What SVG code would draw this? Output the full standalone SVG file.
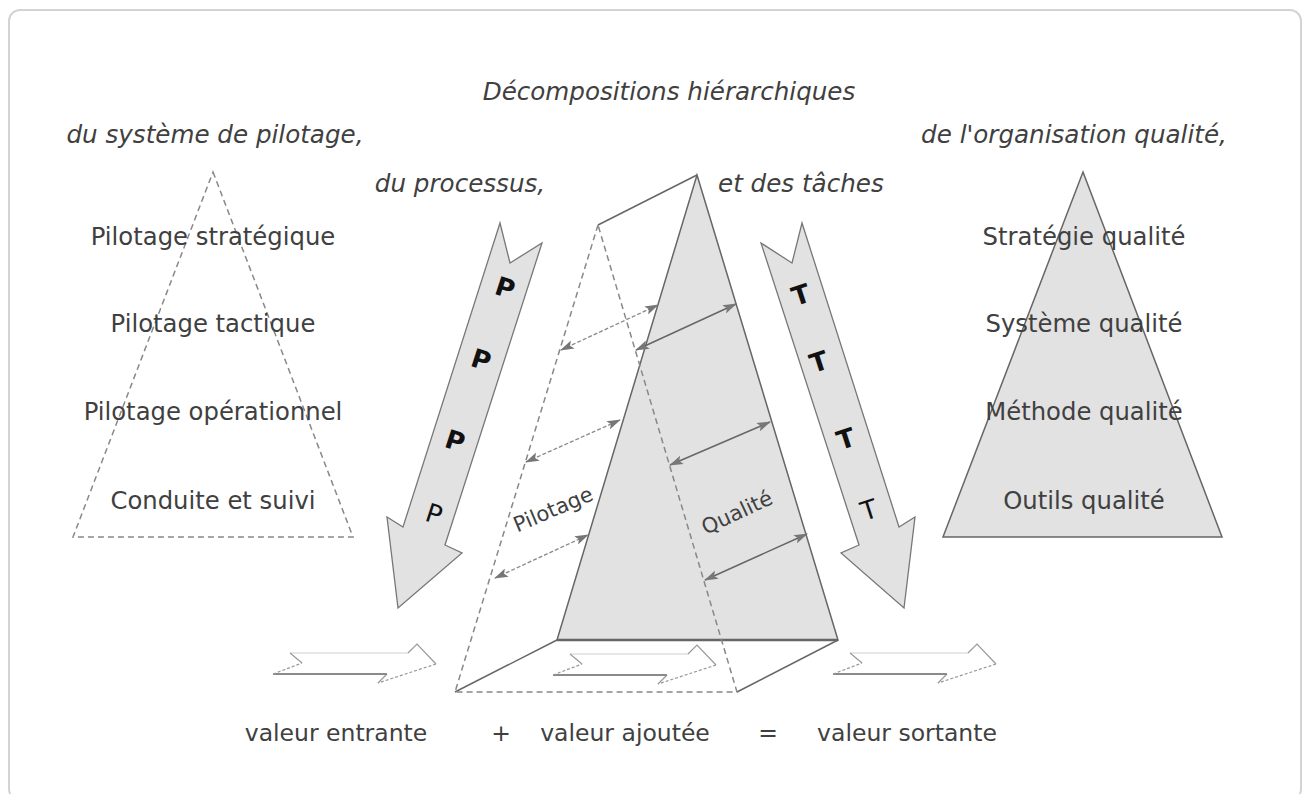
<svg xmlns="http://www.w3.org/2000/svg" width="1307" height="794" viewBox="0 0 1307 794">
  <style>
    .lbl { font-family: "DejaVu Sans", "Liberation Sans", sans-serif; font-size: 24.3px; fill: #404040; text-anchor: middle; }
    .val { font-size: 23.5px; }
    .ttl { font-family: "DejaVu Sans", "Liberation Sans", sans-serif; font-size: 24.6px; font-style: italic; fill: #404040; }
    .letter { font-family: "DejaVu Sans", "Liberation Sans", sans-serif; font-size: 26px; fill: #111; text-anchor: middle; }
    .bold { font-weight: bold; }
    .band { fill: #e2e2e2; stroke: #777; stroke-width: 1.3; stroke-linejoin: miter; }
    .solid { fill: none; stroke: #666; stroke-width: 1.5; }
    .dash { fill: none; stroke: #888; stroke-width: 1.5; stroke-dasharray: 6 4; }
    .dlink { fill: none; stroke: #888; stroke-width: 1.3; stroke-dasharray: 4 2; marker-start: url(#head); marker-end: url(#head); }
    .slink { fill: none; stroke: #666; stroke-width: 1.5; marker-start: url(#head); marker-end: url(#head); }
    .flow-top { stroke: #d0d0d0; stroke-width: 1.2; fill: none; }
    .flow-bot { stroke: #8a8a8a; stroke-width: 2; fill: none; }
    .flow-mid { stroke: #999; stroke-width: 1.2; fill: none; }
    .flow-dash { stroke: #999; stroke-width: 1.2; fill: none; stroke-dasharray: 3 2; }
  </style>
  <defs>
    <marker id="head" viewBox="0 0 14 9" markerWidth="14" markerHeight="9" refX="13" refY="4.5" markerUnits="userSpaceOnUse" orient="auto-start-reverse">
      <path d="M0,0 L14,4.5 L0,9 L3,4.5 z" fill="#777"/>
    </marker>
    <!-- hollow flow arrow, drawn with a light top edge and a heavy bottom edge -->
    <g id="flow">
      <path class="flow-top" d="M290,653 L408,653"/>
      <path class="flow-mid" d="M408,653 L417,644 L436,664"/>
      <path class="flow-dash" d="M436,664 L378,683"/>
      <path class="flow-mid" d="M378,683 L387,674"/>
      <path class="flow-bot" d="M387,674 L273,674"/>
      <path class="flow-dash" d="M273,674 L302,663"/>
      <path class="flow-mid" d="M302,663 L290,653"/>
    </g>
  </defs>

  <rect width="1307" height="794" fill="#fff"/>
  <!-- outer frame -->
  <rect x="9" y="10" width="1292" height="790" rx="11" fill="none" stroke="#d3d3d3" stroke-width="2"/>

  <!-- titles -->
  <g id="titles">
    <text class="ttl" x="669" y="100" text-anchor="middle">Décompositions hiérarchiques</text>
    <text class="ttl" x="215" y="143" text-anchor="middle">du système de pilotage,</text>
    <text class="ttl" x="1074" y="143" text-anchor="middle">de l'organisation qualité,</text>
    <text class="ttl" x="460" y="192" text-anchor="middle">du processus,</text>
    <text class="ttl" x="718" y="192">et des tâches</text>
  </g>

  <!-- pilotage pyramid (dashed) -->
  <g id="pilotage-pyramid">
    <path class="dash" d="M213,172 L353,537 L73,537 Z"/>
    <text class="lbl" x="213" y="245">Pilotage stratégique</text>
    <text class="lbl" x="213" y="332">Pilotage tactique</text>
    <text class="lbl" x="213" y="420">Pilotage opérationnel</text>
    <text class="lbl" x="213" y="509">Conduite et suivi</text>
  </g>

  <!-- quality pyramid (solid) -->
  <g id="qualite-pyramid">
    <path d="M1083,172 L1222,537 L943,537 Z" fill="#e2e2e2" stroke="#666" stroke-width="1.5"/>
    <text class="lbl" x="1084" y="245">Stratégie qualité</text>
    <text class="lbl" x="1084" y="332">Système qualité</text>
    <text class="lbl" x="1084" y="420">Méthode qualité</text>
    <text class="lbl" x="1084" y="509">Outils qualité</text>
  </g>

  <!-- process arrow P -->
  <g id="processus-arrow">
    <path class="band" d="M500,223 L510,263 L542,243 L445,545 L462,553 L398,608 L387,517 L403,527 Z"/>
    <text class="letter bold" transform="translate(505,288) rotate(18)" y="9">P</text>
    <text class="letter bold" transform="translate(481,360) rotate(18)" y="9">P</text>
    <text class="letter bold" transform="translate(455,441) rotate(18)" y="9">P</text>
    <text class="letter" transform="translate(434,514) rotate(18)" y="9">P</text>
  </g>

  <!-- task arrow T -->
  <g id="taches-arrow">
    <path class="band" d="M802,223 L792,263 L761,243 L859,545 L841,553 L904,608 L915,517 L899,527 Z"/>
    <text class="letter bold" transform="translate(801,295) rotate(-18)" y="9">T</text>
    <text class="letter bold" transform="translate(819,362) rotate(-18)" y="9">T</text>
    <text class="letter bold" transform="translate(846,439) rotate(-18)" y="9">T</text>
    <text class="letter" transform="translate(869,510) rotate(-18)" y="9">T</text>
  </g>

  <!-- central prism: solid front face, dashed rear face -->
  <g id="prism">
    <path d="M697,175 L838,640 L557,640 Z" fill="#e2e2e2" stroke="#666" stroke-width="1.5"/>
    <path d="M557,640 L838,640" stroke="#666" stroke-width="2.5"/>
    <path class="solid" d="M697,175 L598,225"/>
    <path class="solid" d="M557,640 L455,692"/>
    <path class="solid" d="M838,640 L737,692"/>
    <path class="dash" d="M598,225 L455,692 L737,692 Z"/>
    <text class="lbl" style="font-size:21px" transform="translate(556,516) rotate(-23)">Pilotage</text>
    <text class="lbl" style="font-size:21px" transform="translate(740,519) rotate(-25)">Qualité</text>
  </g>

  <!-- double-headed links between the faces -->
  <g id="connectors">
    <path class="dlink" d="M561,350 L658,305"/>
    <path class="dlink" d="M526,462 L620,420"/>
    <path class="dlink" d="M495,578 L588,535"/>
    <path class="slink" d="M636,350 L736,304"/>
    <path class="slink" d="M670,465 L770,422"/>
    <path class="slink" d="M705,580 L807,534"/>
  </g>

  <!-- value flow -->
  <g id="flow-in"><use href="#flow"/></g>
  <g id="flow-added"><use href="#flow" transform="translate(280,1)"/></g>
  <g id="flow-out"><use href="#flow" transform="translate(560,0)"/></g>

  <g id="value-labels">
    <text class="lbl val" x="336" y="741">valeur entrante</text>
    <text class="lbl val" x="501" y="741">+</text>
    <text class="lbl val" x="625" y="741">valeur ajoutée</text>
    <text class="lbl val" x="768" y="741">=</text>
    <text class="lbl val" x="907" y="741">valeur sortante</text>
  </g>
</svg>
